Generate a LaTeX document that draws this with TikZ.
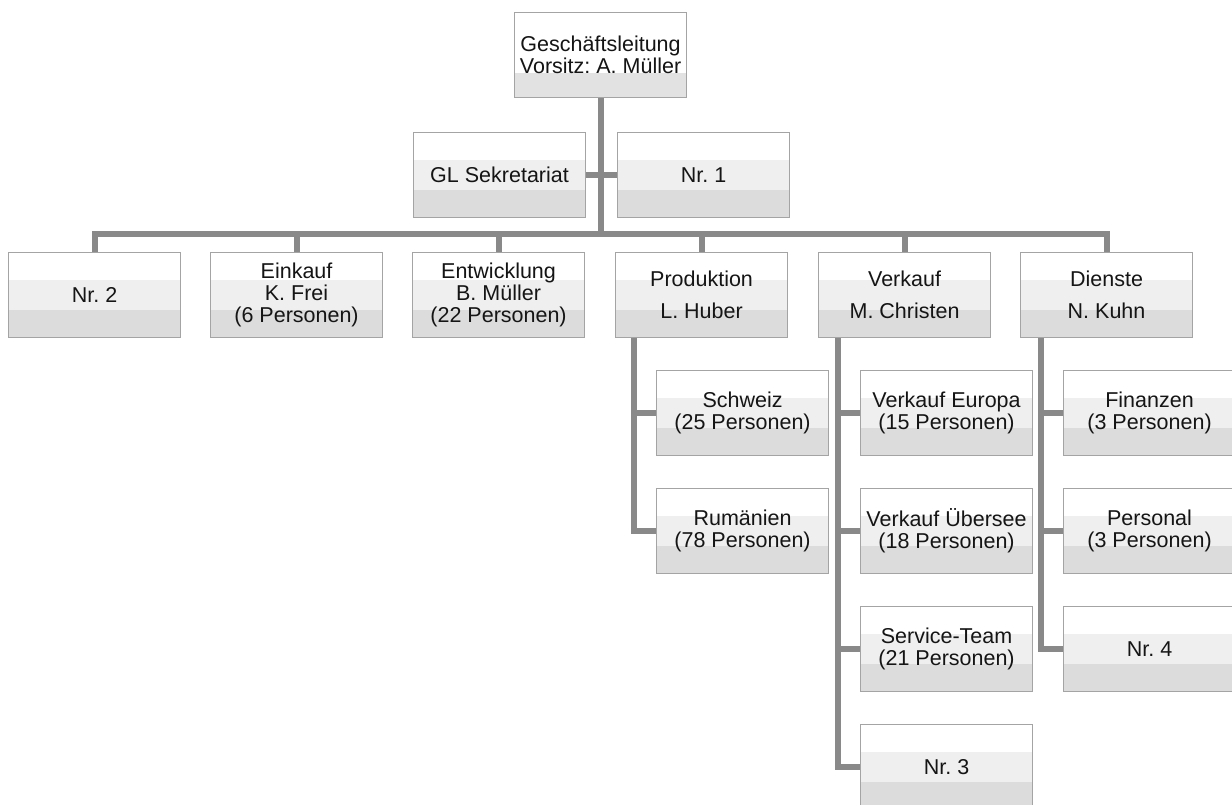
\documentclass[tikz,border=0pt]{standalone}
\usepackage{fontspec}
\setmainfont{Liberation Sans}
\frenchspacing
\definecolor{bandB}{HTML}{EFEFEF}
\definecolor{bandC}{HTML}{DCDCDC}
\definecolor{bandTop}{HTML}{E2E2E2}
\definecolor{bordergray}{HTML}{A4A4A4}
\definecolor{conngray}{HTML}{898989}
\definecolor{txt}{HTML}{151515}
\tikzset{
  orgbox/.style={draw=bordergray, line width=1.1pt, minimum width=172pt, minimum height=85pt,
    anchor=north west, align=center, inner sep=0pt, text=txt,
    font=\fontsize{21.5}{21.7}\selectfont\frenchspacing},
  conn/.style={draw=conngray, line width=6pt, line join=miter}
}
\newcommand\obox[4]{%
  \fill[white] (#2,#3) rectangle ++(172,28);
  \fill[bandB] (#2,#3+28) rectangle ++(172,30);
  \fill[bandC] (#2,#3+58) rectangle ++(172,27);
  \node[orgbox] (#1) at (#2,#3) {#4};
}
\begin{document}
\begin{tikzpicture}[x=1pt,y=-1pt]
\useasboundingbox[fill=white] (0,0) rectangle (1232,805);
\clip (0,0) rectangle (1232,805);
% top box
\fill[white] (514,12) rectangle ++(172,61);
\fill[bandTop] (514,73) rectangle ++(172,24);
\node[orgbox] (gl) at (514,12) {Geschäftsleitung\\Vorsitz: A. Müller};
% second row
\obox{sek}{413}{132}{GL Sekretariat}
\obox{nr1}{617}{132}{Nr. 1}
% third row
\obox{nr2}{8}{252}{Nr. 2}
\obox{eink}{210}{252}{Einkauf\\K. Frei\\(6 Personen)}
\obox{entw}{412}{252}{Entwicklung\\B. Müller\\(22 Personen)}
\obox{prod}{615}{252}{Produktion\\[10pt]L. Huber}
\obox{verk}{818}{252}{Verkauf\\[10pt]M. Christen}
\obox{dien}{1020}{252}{Dienste\\[10pt]N. Kuhn}
% Produktion children
\obox{schw}{656}{370}{Schweiz\\(25 Personen)}
\obox{rum}{656}{488}{Rumänien\\(78 Personen)}
% Verkauf children
\obox{veu}{860}{370}{Verkauf Europa\\(15 Personen)}
\obox{vue}{860}{488}{Verkauf Übersee\\(18 Personen)}
\obox{serv}{860}{606}{Service-Team\\(21 Personen)}
\obox{nr3}{860}{724}{Nr. 3}
% Dienste children
\obox{fin}{1063}{370}{Finanzen\\(3 Personen)}
\obox{pers}{1063}{488}{Personal\\(3 Personen)}
\obox{nr4}{1063}{606}{Nr. 4}
% connectors
\coordinate (bar) at (0,234);
\draw[conn] (gl.south) -- (gl.south |- bar);
\draw[conn] (sek.east) -- (nr1.west);
\draw[conn] (nr2.north) -- (nr2.north |- bar) -- (dien.north |- bar) -- (dien.north);
\foreach \n in {eink,entw,prod,verk} \draw[conn] (\n.north) -- (\n.north |- bar);
% Produktion branch
\coordinate (pv) at ([xshift=19pt]prod.south west);
\draw[conn] (pv) |- (rum.west);
\draw[conn] (schw.west) -- (schw.west -| pv);
% Verkauf branch
\coordinate (vv) at ([xshift=20pt]verk.south west);
\draw[conn] (vv) |- (nr3.west);
\foreach \n in {veu,vue,serv} \draw[conn] (\n.west) -- (\n.west -| vv);
% Dienste branch
\coordinate (dv) at ([xshift=21pt]dien.south west);
\draw[conn] (dv) |- (nr4.west);
\foreach \n in {fin,pers} \draw[conn] (\n.west) -- (\n.west -| dv);
\end{tikzpicture}
\end{document}
